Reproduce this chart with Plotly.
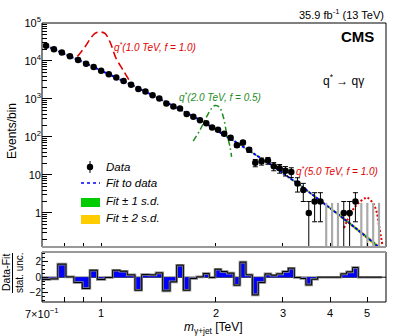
import numpy as np
import plotly.graph_objects as go

# =============================================================================
# Values
# =============================================================================
bin_edges = [0.700, 0.735, 0.770, 0.809, 0.849, 0.893, 0.935, 0.978, 1.024, 1.073,
             1.121, 1.172, 1.228, 1.279, 1.338, 1.394, 1.452, 1.518, 1.580, 1.645,
             1.712, 1.783, 1.856, 1.924, 1.992, 2.066, 2.145, 2.233, 2.316, 2.402,
             2.496, 2.587, 2.694, 2.793, 2.891, 2.998, 3.102, 3.217, 3.343, 3.451,
             3.573, 3.704, 3.832, 3.971, 4.115, 4.264, 4.413, 4.577, 4.734, 4.915,
             5.090, 5.275, 5.463]

data_counts = [25300, 20380, 16620, 13260, 10550, 8430, 6950, 5550, 4480, 3660,
               2970, 2370, 1835, 1562, 1258, 1025, 762, 638, 560, 402,
               343, 275, 230, 177, 154, 121, 95, 61, 71, 46,
               21, 23, 24, 17, 15, 13, 12, 6, 4, 1,
               2, 2, 0, 0, 0, 1, 1, 2, 0, 0,
               0, 0]

fit_values = [25350, 20420, 16440, 13240, 10670, 8590, 6920, 5570, 4490, 3610,
              2920, 2370, 1910, 1550, 1250, 1010, 817, 659, 532, 430,
              347, 278, 223, 178, 142, 112, 89.1, 70.5, 55.6, 43.8,
              34.4, 27.0, 21.2, 16.6, 12.9, 10.0, 7.80, 6.03, 4.65, 3.57,
              2.74, 2.10, 1.60, 1.22, 0.93, 0.705, 0.533, 0.402, 0.301, 0.225,
              0.167, 0.124]

# relative half-width of the fit uncertainty bands
band1_rel = [0.008, 0.007, 0.006, 0.006, 0.005, 0.005, 0.005, 0.005, 0.005, 0.005,
             0.005, 0.005, 0.006, 0.006, 0.006, 0.007, 0.007, 0.008, 0.008, 0.009,
             0.010, 0.010, 0.011, 0.012, 0.013, 0.014, 0.015, 0.016, 0.017, 0.018,
             0.019, 0.020, 0.022, 0.023, 0.025, 0.026, 0.028, 0.030, 0.032, 0.034,
             0.036, 0.038, 0.040, 0.042, 0.045, 0.047, 0.050, 0.053, 0.056, 0.059,
             0.062, 0.065]
band2_rel = [0.016, 0.014, 0.012, 0.012, 0.010, 0.010, 0.010, 0.010, 0.010, 0.010,
             0.010, 0.010, 0.012, 0.012, 0.012, 0.014, 0.014, 0.016, 0.016, 0.018,
             0.020, 0.020, 0.022, 0.024, 0.026, 0.028, 0.030, 0.032, 0.034, 0.036,
             0.038, 0.040, 0.044, 0.046, 0.050, 0.052, 0.056, 0.060, 0.064, 0.068,
             0.072, 0.076, 0.080, 0.084, 0.090, 0.094, 0.100, 0.106, 0.112, 0.118,
             0.124, 0.130]

pulls = [-0.30, -0.22, 1.68, 0.04, -0.69, -1.46, 0.90, -0.30, -0.04, 0.90,
         0.77, 0.30, -1.68, 0.34, 0.30, 0.56, -1.76, -0.60, 1.55, -1.68,
         -0.17, 0.04, 0.47, -0.04, 1.03, 0.73, 0.52, -1.03, 1.94, 0.30,
         -2.28, -0.69, 0.43, 0.26, 0.43, 0.73, 1.16, -0.04, -0.17, -0.99,
         -0.26, 0.0, 0.0, 0.0, 0.0, 0.43, 0.69, 1.25, 0.0, 0.0,
         0.0, 0.0]

sig1_mass = [0.867, 0.908, 0.935, 0.964, 0.994, 1.024, 1.056, 1.095, 1.142, 1.191]
sig1_evts = [13100, 23800, 36800, 53500, 58000, 53000, 31600, 11800, 5800, 2900]

sig2_mass = [1.746, 1.819, 1.894, 1.952, 1.992, 2.044, 2.094, 2.137, 2.180, 2.202]
sig2_evts = [78, 153, 342, 569, 675, 616, 342, 125, 56, 30]

sig5_mass = [4.343, 4.550, 4.735, 4.930, 5.000, 5.180, 5.290, 5.375, 5.490]
sig5_evts = [0.40, 1.08, 1.80, 2.44, 2.53, 1.80, 1.08, 0.436, 0.13]

x_ticks = [0.7, 0.8, 0.9, 1, 2, 3, 4, 5]
x_labels = {0.7: "7×10<sup>−1</sup>", 1: "1", 2: "2", 3: "3", 4: "4", 5: "5"}
y_ticks = [1, 10, 100, 1e3, 1e4, 1e5]
y_ticktext = ["1", "10", "10<sup>2</sup>", "10<sup>3</sup>", "10<sup>4</sup>", "10<sup>5</sup>"]

# =============================================================================
# Derived quantities
# =============================================================================
edges = np.array(bin_edges)
centers = np.sqrt(edges[:-1] * edges[1:])
n = np.array(data_counts, dtype=float)
fit = np.array(fit_values)
b1 = np.array(band1_rel)
b2 = np.array(band2_rel)

err = np.sqrt(n)
err_lo = np.where(n - err <= 0, n - 0.01, err)
has = n > 0
empty_x, empty_y = [], []
for c in centers[~has]:
    empty_x += [c, c, None]
    empty_y += [1.84, 0.01, None]

# geometry in pixels
W, H = 407, 336
ML, MR, MT, MB = 42, 21, 23, 34
PW, PH = W - ML - MR, H - MT - MB


def px(x):
    return (x - ML) / PW


def py(y):
    return 1 - (y - MT) / PH


main_dom = [py(247), 1]
ratio_dom = [0, py(252)]

FONT = "Liberation Sans, Arial, Helvetica, sans-serif"
RED = "#e00000"
GREEN = "#1e8c1e"
BLUE = "#0000ff"

fig = go.Figure()

# --- uncertainty bands ---
for rel, col in [(b2, "#ffcc00"), (b1, "#00cc00")]:
    fig.add_trace(go.Scatter(x=centers, y=fit * (1 - rel), mode="lines",
                             line=dict(width=0, shape="spline"), hoverinfo="skip"))
    fig.add_trace(go.Scatter(x=centers, y=fit * (1 + rel), mode="lines", fill="tonexty",
                             fillcolor=col, line=dict(width=0, shape="spline"),
                             hoverinfo="skip"))

# --- fit ---
fig.add_trace(go.Scatter(x=centers, y=fit, mode="lines",
                         line=dict(color=BLUE, width=2, dash="3px,1.5px", shape="spline")))

# --- signals ---
fig.add_trace(go.Scatter(x=sig1_mass, y=sig1_evts, mode="lines",
                         line=dict(color=RED, width=1.6, dash="8px,4px", shape="spline")))
fig.add_trace(go.Scatter(x=sig2_mass, y=sig2_evts, mode="lines",
                         line=dict(color=GREEN, width=1.5, dash="6px,3px,1.5px,3px",
                                   shape="spline")))
fig.add_trace(go.Scatter(x=sig5_mass, y=sig5_evts, mode="lines",
                         line=dict(color=RED, width=2, dash="2px,2px", shape="spline")))

# --- data ---
fig.add_trace(go.Scatter(x=empty_x, y=empty_y, mode="lines",
                         line=dict(color="#aaaaaa", width=2.2)))
fig.add_trace(go.Scatter(
    x=centers[has], y=n[has], mode="markers",
    marker=dict(symbol="circle", size=6.5, color="black"),
    error_y=dict(type="data", symmetric=False, array=err[has], arrayminus=err_lo[has],
                 color="black", thickness=1, width=2.5),
))

# --- ratio panel ---
hx = list(edges)
hy = list(pulls) + [pulls[-1]]
fig.add_trace(go.Scatter(x=hx, y=hy, mode="lines", fill="tozeroy", fillcolor=BLUE,
                         line=dict(color="#888888", width=2.6, shape="hv"),
                         xaxis="x2", yaxis="y2"))
fig.add_trace(go.Scatter(x=hx, y=hy, mode="lines",
                         line=dict(color="black", width=1, shape="hv"),
                         xaxis="x2", yaxis="y2"))

# =============================================================================
# Layout
# =============================================================================
y_minor = [k * 10.0 ** e for e in range(-1, 5) for k in range(2, 10)]
y_minor = [v for v in y_minor if 0.127 <= v <= 1e5]

xr = [np.log10(0.7), np.log10(5.6)]
common_x = dict(type="log", range=xr, tickvals=x_ticks, ticks="inside", tickcolor="black",
                showgrid=False, zeroline=False, showline=False, showticklabels=False)

fig.update_layout(
    width=W, height=H,
    margin=dict(l=ML, r=MR, t=MT, b=MB),
    paper_bgcolor="white", plot_bgcolor="white",
    font=dict(family=FONT, color="black", size=11),
    showlegend=False,
    xaxis=dict(common_x, anchor="y", domain=[0, 1], ticklen=4),
    yaxis=dict(type="log", range=[np.log10(0.127), 5], domain=main_dom, anchor="x",
               tickvals=y_ticks, ticktext=y_ticktext, ticks="inside", ticklen=10,
               tickcolor="black", tickfont=dict(size=11), showgrid=False, zeroline=False,
               minor=dict(tickvals=y_minor, ticks="inside", ticklen=5,
                          tickcolor="black", showgrid=False)),
    xaxis2=dict(common_x, anchor="y2", domain=[0, 1], ticklen=5, matches="x"),
    yaxis2=dict(range=[-3.2, 3.25], domain=ratio_dom, anchor="x2",
                tickvals=[-2, 0, 2], ticktext=["−2", "0", "2"], ticks="inside", ticklen=6,
                tickcolor="black", tickfont=dict(size=10), showgrid=False, zeroline=False,
                minor=dict(dtick=0.5, ticks="inside", ticklen=3, tickcolor="black",
                           showgrid=False)),
)

shapes = [
    # frames
    dict(type="rect", xref="paper", yref="paper", x0=0, x1=1, y0=main_dom[0], y1=1,
         line=dict(color="black", width=1)),
    dict(type="rect", xref="paper", yref="paper", x0=0, x1=1, y0=0, y1=ratio_dom[1],
         line=dict(color="black", width=1)),
    dict(type="line", xref="paper", yref="paper", x0=0, x1=1, y0=main_dom[0],
         y1=main_dom[0], line=dict(color="#999999", width=2)),
    dict(type="line", xref="paper", yref="paper", x0=0, x1=1, y0=ratio_dom[1],
         y1=ratio_dom[1], line=dict(color="#999999", width=2)),
    dict(type="line", xref="paper", yref="y2", x0=0, x1=1, y0=0, y1=0,
         line=dict(color="black", width=1), layer="below"),
    # legend symbols
    dict(type="line", xref="paper", yref="paper", x0=px(90), x1=px(90), y0=py(161),
         y1=py(173), line=dict(color="black", width=1)),
    dict(type="circle", xref="paper", yref="paper", x0=px(86.8), x1=px(93.2),
         y0=py(170.2), y1=py(163.8), fillcolor="black", line=dict(width=0)),
    dict(type="line", xref="paper", yref="paper", x0=px(81), x1=px(100), y0=py(183),
         y1=py(183), line=dict(color=BLUE, width=1.5, dash="dot")),
    dict(type="rect", xref="paper", yref="paper", x0=px(81), x1=px(100), y0=py(207),
         y1=py(198), fillcolor="#00cc00", line=dict(width=0)),
    dict(type="rect", xref="paper", yref="paper", x0=px(81), x1=px(100), y0=py(224),
         y1=py(215), fillcolor="#ffcc00", line=dict(width=0)),
    # fraction bar of the ratio title
    dict(type="line", xref="paper", yref="paper", x0=px(12.5), x1=px(12.5),
         y0=py(253), y1=py(293), line=dict(color="black", width=1)),
]
fig.update_layout(shapes=shapes)


def note(text, x, y, size=11, color="black", xanchor="left", angle=0, italic=False,
         yanchor="middle"):
    if italic:
        text = "<i>" + text + "</i>"
    fig.add_annotation(text=text, x=px(x), y=py(y), xref="paper", yref="paper",
                       xanchor=xanchor, yanchor=yanchor, showarrow=False,
                       textangle=angle, font=dict(size=size, color=color, family=FONT))


# x tick labels of the ratio panel
for v, lab in x_labels.items():
    fig.add_annotation(text=lab, x=np.log10(v), xref="x2", y=py(313), yref="paper",
                       xanchor="center", yanchor="middle", showarrow=False,
                       font=dict(size=11, family=FONT, color="black"))

note("35.9 fb<sup>-1</sup> (13 TeV)", 386, 14, size=11, xanchor="right")
note("<b>CMS</b>", 376, 36, size=15, xanchor="right")
note("q<sup>*</sup> → qγ", 321, 80, size=12)
note("q<sup>*</sup>(1.0 TeV, f = 1.0)", 112, 47, size=10, color=RED, italic=True)
note("q<sup>*</sup>(2.0 TeV, f = 0.5)", 177, 97, size=10, color=GREEN, italic=True)
note("q<sup>*</sup>(5.0 TeV, f = 1.0)", 294, 171, size=10, color=RED, italic=True)

note("Data", 104, 167, size=11.5, italic=True)
note("Fit to data", 104, 183, size=11.5, italic=True)
note("Fit ± 1 s.d.", 104, 201, size=11.5, italic=True)
note("Fit ± 2 s.d.", 104, 218, size=11.5, italic=True)

note("Events/bin", 12, 131, size=12, xanchor="center", angle=-90)
note("Data-Fit", 6, 273, size=10.5, xanchor="center", angle=-90)
note("stat. unc.", 19, 273, size=10, xanchor="center", angle=-90)
note("<i>m</i><sub>γ+jet</sub> [TeV]", 213, 328, size=12, xanchor="center")

# the page's default body margin would shift the figure; remove it
fig.write_html("out.html",
               config={"displayModeBar": False, "staticPlot": True},
               post_script="document.body.style.margin='0';"
                           "document.body.style.overflow='hidden';")
